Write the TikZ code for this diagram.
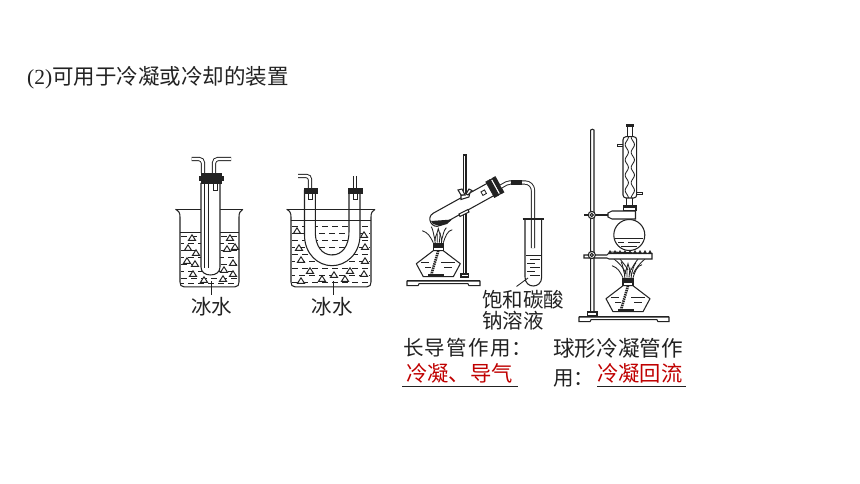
\documentclass[tikz,border=0pt]{standalone}
\usepackage{fontspec}
\setmainfont{Liberation Serif}
\newfontfamily\cjk{Noto Sans CJK SC}
\definecolor{ink}{HTML}{222222}
\definecolor{redtxt}{HTML}{C00000}
\tikzset{
  glass/.style={draw=ink,line width=1.05pt},
  tube/.style={draw=ink,line width=.95pt,double=white,double distance=2.4pt},
  thin glass/.style={draw=ink,line width=.85pt},
  stopper/.style={fill=ink,draw=ink,line width=.5pt},
  waterline/.style={draw=ink,line width=.8pt,dash pattern=on 6pt off 4pt},
  ice/.style={draw=ink,line width=.95pt,fill=white},
  label/.style={font=\cjk\fontsize{20.5}{20.5}\selectfont,text=ink,inner sep=0pt},
  answer/.style={font=\cjk\fontsize{21.3}{21.3}\selectfont,text=redtxt,inner sep=0pt},
  rule/.style={draw=ink,line width=1pt},
}
\newcommand\icebit[2]{\draw[ice] (#1-3.6,#2+2.4) -- (#1,#2-3.2) -- (#1+3.6,#2+2.4) -- cycle;}
\newcommand\lampat[2]{%
  \begin{scope}[shift={(#1,#2)}]
    \draw[glass,fill=white,line join=round] (-5,-26) -- (-22,-13) -- (-15,0) -- (15,0) -- (22,-13) -- (5,-26) -- cycle;
    \draw[thin glass] (-17,-14) -- (-9,-14) (3,-14) -- (17,-14) (-13,-9) -- (-7,-9) (6,-9) -- (14,-9);
    \draw[draw=ink,line width=2.6pt,dash pattern=on 1.4pt off .8pt] (0,-26) -- (-7,-2);
    \draw[line width=1.6pt,draw=ink] (-10,-1.5) -- (6,-1.5);
    \draw[glass,fill=white] (-5,-33) rectangle (5,-26);
    \draw[stopper] (-5,-33) rectangle (5,-29.5);
    \draw[thin glass] (-3,-33) .. controls (-5,-38) and (-1,-42) .. (0,-48) .. controls (1,-42) and (5,-38) .. (3,-33);
    \draw[thin glass] (-1,-34) -- (-1,-43) (1,-34) -- (2,-44);
    \draw[thin glass] (-5,-34) .. controls (-8,-40) and (-10,-44) .. (-16,-46);
    \draw[thin glass] (5,-34) .. controls (7,-40) and (9,-46) .. (14,-47);
    \draw[thin glass] (-3,-36) .. controls (-5,-42) and (-5,-47) .. (-7,-50);
    \draw[thin glass] (3,-36) .. controls (5,-41) and (5,-46) .. (8,-49);
  \end{scope}}
\newcommand\basefoot[3]{%
  \fill[ink] (#1,#3-6) rectangle (#2,#3-4);
  \draw[glass,fill=white] (#1,#3-4.5) -- (#2,#3-4.5) -- (#2,#3) -- (#2-11,#3) -- (#2-12,#3-2) -- (#1+12,#3-2) -- (#1+11,#3) -- (#1,#3) -- cycle;}
\begin{document}
\begin{tikzpicture}[x=1pt,y=-1pt]
\useasboundingbox (0,0) rectangle (860,484);
\fill[white] (0,0) rectangle (860,484);

\node[anchor=west,inner sep=0pt,text=ink] (title) at (27,78) {\fontsize{21.5}{21.5}\selectfont (2){\cjk 可用于冷凝或冷却的装置}};

% ---------- beaker 1
\foreach \y/\o in {236/0,243/3,250/0,257/3,264/0,271/3,278/0,283/3}{
  \draw[waterline,dash phase=\o pt] (181,\y) -- (238,\y);}
\draw[rule] (180,232.5) -- (239,232.5);
\foreach \x/\y in {192/238,230/238,188/248,227/249,235/247,196/253,187/261,195/264,233/263,224/270,193/274,233/274,204/280,223/279}{\icebit{\x}{\y}}
\draw[glass] (175.5,209.3) -- (242.8,209.3);
\draw[glass] (175.5,209.3) .. controls (179,211) and (180,213) .. (180,217) -- (180,282) .. controls (180,285) and (181,286.8) .. (184,286.8) -- (235,286.8) .. controls (238,286.8) and (239,285) .. (239,282) -- (239,217) .. controls (239,213) and (240,211) .. (242.8,209.3);
\draw[glass,fill=white] (201,183) -- (201,267) .. controls (201,272) and (205,275) .. (210.5,275) .. controls (216,275) and (220,272) .. (220,267) -- (220,183);
\draw[tube] (206.5,173) -- (206.5,268);
\draw[tube,rounded corners=4pt] (191.7,159) -- (203,159) -- (203,173);
\draw[tube,rounded corners=4pt] (231,159) -- (214,159) -- (214,173);
\draw[thin glass] (213.5,183) rectangle (217,190.5);
\draw[stopper] (201,173.5) rectangle (221,176);
\draw[stopper] (199,176.5) rectangle (223,180);
\draw[stopper] (201,180) rectangle (221,183);
\draw[rule] (211,281) -- (211,295);
\node[label] (ice1) at (211.7,306.7) {冰水};

% ---------- beaker 2
\foreach \y/\o in {226/0,233/3,240/0,247/3,254/0,261/3,268/0,275/3,282/0}{
  \draw[waterline,dash phase=\o pt] (292,\y) -- (370,\y);}
\draw[rule] (291,220.7) -- (371,220.7);
\fill[white] (304.5,200) -- (304.5,235) .. controls (304.5,254) and (318,265.7) .. (332,265.7) .. controls (346,265.7) and (360,254) .. (360,235) -- (360,200) -- (349,200) -- (349,232) .. controls (349,246) and (342,255) .. (332,255) .. controls (322,255) and (315.3,246) .. (315.3,232) -- (315.3,200) -- cycle;
\draw[glass] (304.5,190) -- (304.5,235) .. controls (304.5,254) and (318,265.7) .. (332,265.7) .. controls (346,265.7) and (360,254) .. (360,235) -- (360,190);
\draw[glass] (315.3,190) -- (315.3,232) .. controls (315.3,246) and (322,255) .. (332,255) .. controls (342,255) and (349,246) .. (349,232) -- (349,190);
\draw[rule] (304.5,220.7) -- (315.3,220.7) (349,220.7) -- (360,220.7);
\foreach \x/\y in {297/231,364/235,299/248,365/247,301/260,365/261,310/271,350/271,364/274,334/275,301/281,322/279,345/279}{\icebit{\x}{\y}}
\draw[glass] (286.7,209.3) -- (375,209.3);
\draw[glass] (286.7,209.3) .. controls (290,211) and (291,213) .. (291,217) -- (291,282) .. controls (291,285) and (292,286.8) .. (295,286.8) -- (367,286.8) .. controls (370,286.8) and (371,285) .. (371,282) -- (371,217) .. controls (371,213) and (372,211) .. (375,209.3);
\draw[tube,rounded corners=3.5pt] (298,176) -- (310,176) -- (310,190);
\draw[tube] (355,176) -- (355,190);
\draw[thin glass] (308,193) rectangle (312,199);
\draw[thin glass] (353,193) rectangle (357,199);
\draw[stopper] (304,188.5) rectangle (317,193);
\draw[stopper] (348,188.5) rectangle (362,193);
\draw[rule] (333,281) -- (333,295);
\node[label] (ice2) at (332,306.7) {冰水};

% ---------- distillation set
\basefoot{407}{480}{285.7}
\draw[glass,fill=white] (463.3,155) rectangle (466,277);
\draw[glass,fill=white] (461,277) -- (461,274) -- (468.5,274) -- (468.5,277) -- cycle;
\lampat{438.3}{276.7}
\begin{scope}[shift={(436.7,219.3)},rotate=29]
  \draw[glass,fill=white] (62,-7) -- (0,-7) .. controls (-9,-7) and (-9,7) .. (0,7) -- (62,7);
  \draw[thin glass,fill=white] (52,-2.5) rectangle (56,1.5);
  \draw[stopper] (61,-9) rectangle (66,9);
  \draw[glass,fill=white] (66,-8.5) rectangle (68.5,8.5);
  \draw[stopper] (68.5,-9) rectangle (72,9);
\end{scope}
\fill[ink] (431,221) -- (452,219.5) -- (447,224) -- (440,226) -- (433,224) -- cycle;
\draw[glass,fill=white] (459,214) -- (468,209.5) -- (469,212) -- (460,216.5) -- cycle;
\draw[glass,fill=white] (461,195.5) -- (470,192) -- (469,197) -- (461,199.5) -- cycle;
\draw[glass,fill=white] (458,190) -- (462,189) -- (465,195) -- (461,195) -- cycle;
\draw[glass,fill=white] (469,189) -- (472,190.5) -- (468,195) -- (466,194) -- cycle;
\draw[tube,rounded corners=2pt] (501,186.5) -- (508,182.5) -- (513,182.5);
\draw[tube,rounded corners=8pt] (521,182.5) -- (533,182.5) -- (533,248);
\draw[draw=ink,line width=5pt] (511,183) -- (522,183);
\draw[glass] (522.5,219) -- (544,219);
\draw[glass,fill=none] (525,219) -- (525,277) .. controls (525,283) and (529,286) .. (533.3,286) .. controls (537.5,286) and (541.7,283) .. (541.7,277) -- (541.7,219);
\draw[rule] (526,255) -- (541,255);
\foreach \y/\a/\b in {259/530/540,263/527/535,267/530/540,271/527/535,275/530/540}{\draw[thin glass] (\a,\y) -- (\b,\y);}
\draw[thin glass] (516.5,286.5) -- (528,278);
\node[label,anchor=west] (satA) at (482,300) {饱和碳酸};
\node[label,anchor=west] (satB) at (482,320.5) {钠溶液};

% ---------- reflux set
\basefoot{579}{669}{321.7}
\draw[glass,fill=white] (590.7,130) .. controls (591,129) and (593.7,129) .. (594,130) -- (594,312) -- (590.7,312) -- cycle;
\draw[glass,fill=white] (587.5,316) -- (587.5,312) -- (597,312) -- (597,316) -- cycle;
\lampat{628}{311.7}
% tripod ring
\draw[thin glass] (614,259) .. controls (619,263) and (624,268) .. (626,274);
\draw[thin glass] (645,259) .. controls (640,263) and (636,268) .. (633,274);
\draw[thin glass] (620,259) .. controls (623,263) and (626,266) .. (628,270);
\draw[thin glass] (638,259) .. controls (635,263) and (633,266) .. (631,270);
\draw[glass,fill=white] (584,255) -- (607,255) -- (610,252) -- (652,253.5) -- (652,259) -- (609,259) -- (607,258) -- (584,258) -- cycle;
\foreach \x in {610,615,...,650}{\fill[ink] (\x-2.3,254) -- (\x,250) -- (\x+2.3,254) -- cycle;}
\draw[line width=1.2pt,draw=ink] (609,253.8) -- (652,253.8);
\draw[glass,fill=white] (591.8,255) circle[radius=3.6];
\draw[glass,fill=white] (591.8,255) circle[radius=1.6];
% flask
\draw[glass,fill=white] (629.3,235) circle[radius=15.5];
\draw[thin glass] (615.2,238) -- (643.4,238);
\draw[thin glass] (618,242) -- (624,242) (628,242) -- (640,242) (621,246) -- (637,246);
% upper clamp
\draw[glass] (584,215) -- (608,215);
\draw[glass,fill=white] (608,213) -- (612,211) -- (635.5,211) -- (635.5,219) -- (612,219) -- (608,217) -- cycle;
\draw[glass,fill=white] (591.8,215) circle[radius=3.6];
\draw[glass,fill=white] (591.8,215) circle[radius=1.6];
% condenser
\draw[stopper] (623.5,205.5) rectangle (636,207.5);
\draw[glass,fill=white] (623.5,207.5) rectangle (636,210.8);
\draw[glass] (626.5,198) -- (626.5,205.5) (632.8,198) -- (632.8,205.5);
\draw[glass,rounded corners=3pt,fill=white] (623,136.7) -- (636.7,136.7) -- (636.7,198) -- (623,198) -- cycle;
\draw[thin glass] (627,125.5) -- (627,137) (632.6,125.5) -- (632.6,137);
\fill[ink] (626,124.3) rectangle (633.5,127);
\draw[thin glass] plot[domain=0:1,samples=61,smooth] ({629.8-1.4-3.2*sin(4*180*\x)*sin(4*180*\x)},{137+61*\x});
\draw[thin glass] plot[domain=0:1,samples=61,smooth] ({629.8+1.4+3.2*sin(4*180*\x)*sin(4*180*\x)},{137+61*\x});
\draw[thin glass] (617,144) -- (623,144) (617,146.8) -- (623,146.8) (617,144) -- (617,146.8);
\draw[thin glass] (636.7,192) -- (642.5,192) -- (642.5,194.8) -- (636.7,194.8);

% ---------- captions
\node[label,anchor=west] (capA) at (403,348) {长\hspace{.06em}导\hspace{.06em}管\hspace{.06em}作\hspace{.06em}用\hspace{.06em}：};
\node[answer,anchor=west] (ansA) at (406,373) {冷凝、导气};
\draw[rule] (402,386.5) -- (518,386.5);
\node[label,anchor=west,font=\cjk\fontsize{21.6}{21.6}\selectfont] (capB) at (553,348) {球形冷凝管作};
\node[label,anchor=west,font=\cjk\fontsize{20.5}{20.5}\selectfont] (capC) at (553,378) {用：};
\node[answer,anchor=west] (ansB) at (597,373) {冷凝回流};
\draw[rule] (597,386.5) -- (686,386.5);
\end{tikzpicture}
\end{document}
